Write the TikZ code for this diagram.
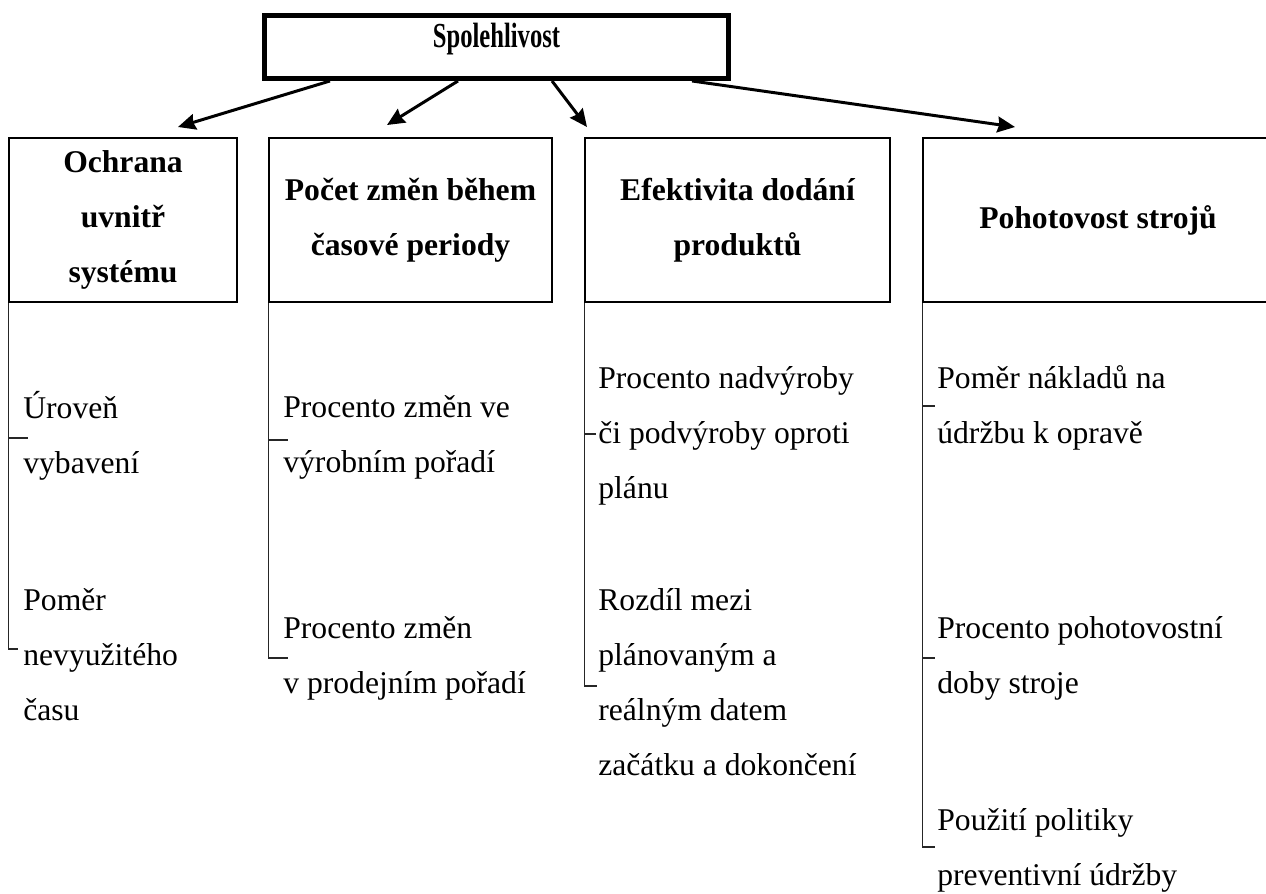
\documentclass[tikz,border=0pt]{standalone}
\usepackage{fontspec}
\setmainfont{Liberation Serif}
\usepackage{tikz}
\usetikzlibrary{arrows.meta}
\usetikzlibrary{positioning}

\begin{document}
\begin{tikzpicture}[
  head/.style={draw, line width=2.8pt, minimum width=9.28cm, minimum height=1.26cm,
    inner sep=0pt, text height=0.45cm, text depth=0.45cm,
    font=\fontsize{20}{24}\selectfont\bfseries},
  group/.style={draw, line width=1.1pt, minimum height=3.28cm, inner sep=0pt,
    align=center, font=\fontsize{18}{31.3}\selectfont\bfseries},
  item/.style={anchor=base west, align=left, inner sep=0pt,
    font=\fontsize{18}{31.3}\selectfont},
  link/.style={->, line width=1.7pt},
  tree/.style={line width=0.6pt, black!85},
]
\tikzset{>={Stealth[length=10pt, width=9pt, inset=1pt]}}
  \useasboundingbox (0,0) rectangle (25.32,-17.86);

  % Nodes
  \node[head] (top) at (9.93,-0.94) {\scalebox{0.7}[1]{Spolehlivost}};

  \node[group, minimum width=4.56cm] (ochrana) at (2.46,-4.4)  {Ochrana\\uvnitř\\systému};
  \node[group, minimum width=5.66cm] (pocet)   at (8.21,-4.4)  {Počet změn během\\časové periody};
  \node[group, minimum width=6.10cm] (efekt)   at (14.75,-4.4) {Efektivita dodání\\produktů};
  \node[group, minimum width=7.00cm] (pohot)   at (21.96,-4.4) {Pohotovost strojů};

  % (base = last line)
  \node[item] (uroven)  at (0.46,-9.46)  {Úroveň\\vybavení};
  \node[item] (pomer)   at (0.46,-14.4)  {Poměr\\nevyužitého\\času};
  \node[item] (vyrob)   at (5.66,-9.44)  {Procento změn ve\\výrobním pořadí};
  \node[item] (prodej)  at (5.66,-13.86) {Procento změn\\v prodejním pořadí};
  \node[item] (nadvyr)  at (11.96,-9.96) {Procento nadvýroby\\či podvýroby oproti\\plánu};
  \node[item] (rozdil)  at (11.96,-15.5) {Rozdíl mezi\\plánovaným a\\reálným datem\\začátku a dokončení};
  \node[item] (naklad)  at (18.74,-8.86) {Poměr nákladů na\\údržbu k opravě};
  \node[item] (pohdoba) at (18.74,-13.86) {Procento pohotovostní\\doby stroje};
  \node[item] (politik) at (18.74,-17.7) {Použití politiky\\preventivní údržby};

  \coordinate (t1) at (3.56,-2.54);
  \coordinate (t2) at (7.74,-2.50);
  \coordinate (t3) at (11.74,-2.54);
  \coordinate (t4) at (20.30,-2.54);

  % Edges
  \draw[link] ([xshift=-3.33cm]top.south) -- (t1);
  \draw[link] ([xshift=-0.77cm]top.south) -- (t2);
  \draw[link] ([xshift=1.11cm]top.south) -- (t3);
  \draw[link] ([xshift=3.91cm]top.south) -- (t4);

  % Brackets
  \draw[tree] (ochrana.south west) -- ++(0,-6.92) -- ++(0.2,0);
  \draw[tree] (ochrana.south west) ++(0,-2.7) -- ++(0.4,0);
  \draw[tree] (pocet.south west) -- ++(0,-7.1) -- ++(0.4,0);
  \draw[tree] (pocet.south west) ++(0,-2.74) -- ++(0.4,0);
  \draw[tree] (efekt.south west) -- ++(0,-7.66) -- ++(0.26,0);
  \draw[tree] (efekt.south west) ++(0,-2.62) -- ++(0.24,0);
  \draw[tree] (pohot.south west) -- ++(0,-10.88) -- ++(0.26,0);
  \draw[tree] (pohot.south west) ++(0,-2.06) -- ++(0.26,0);
  \draw[tree] (pohot.south west) ++(0,-7.1) -- ++(0.26,0);

\end{tikzpicture}
\end{document}
